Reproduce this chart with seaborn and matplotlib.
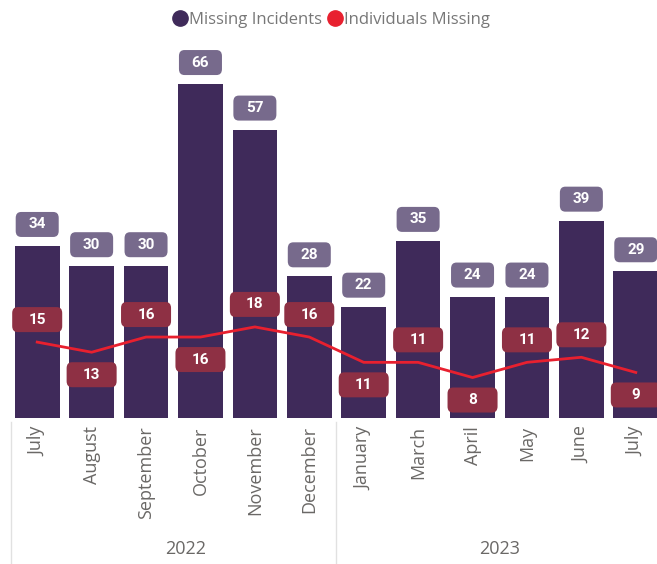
import pandas as pd
import seaborn as sns
import matplotlib.pyplot as plt
from matplotlib.patches import FancyBboxPatch
from matplotlib.lines import Line2D

months = ['July', 'August', 'September', 'October', 'November', 'December',
          'January', 'March', 'April', 'May', 'June', 'July']
years = ['2022'] * 6 + ['2023'] * 6
incidents = [34, 30, 30, 66, 57, 28, 22, 35, 24, 24, 39, 29]
individuals = [15, 13, 16, 16, 18, 16, 11, 11, 8, 11, 12, 9]
# label side for the line values (+1 above the point, -1 below)
line_label_side = [1, -1, 1, -1, 1, 1, -1, 1, -1, 1, 1, -1]

df = pd.DataFrame({'month': months, 'year': years,
                   'incidents': incidents, 'individuals': individuals})
df['period'] = df['month'] + ' ' + df['year']

bar_col = '#3f2a5a'
line_col = '#e8202f'
bar_box = '#776a8c'
line_box = '#8e3044'
grey = '#6a6866'

W, H = 657, 564
fig = plt.figure(figsize=(W / 100, H / 100), dpi=100)
ax = fig.add_axes([10 / W, 146 / H, 653 / W, 378 / H])

sns.barplot(data=df, x='period', y='incidents', color=bar_col, width=0.82,
            saturation=1, ax=ax)
sns.pointplot(data=df, x='period', y='individuals', color=line_col, markers='',
              linewidth=2, errorbar=None, ax=ax)

ax.set_xlim(-0.5, 11.5)
ax.set_ylim(0, 378 / 5.06)
for s in ax.spines.values():
    s.set_visible(False)
ax.set_yticks([])
ax.set_xlabel('')
ax.set_ylabel('')
ax.set_xticks(range(len(months)))
ax.set_xticklabels(months, rotation=90, fontsize=13, color=grey, family='Open Sans')
ax.tick_params(axis='x', length=0, pad=6)

# rounded label boxes, sized in pixels
px_x = 54.4
px_y = 5.06
rs = 0.1
asp = (6 / px_y) / rs


def label(x, y, txt, fc, wpx):
    bw, bh = wpx / px_x, 25 / px_y
    box = FancyBboxPatch((x - bw / 2, y - bh / 2), bw, bh,
                         boxstyle=f'round,pad=0,rounding_size={rs}',
                         mutation_aspect=asp, fc=fc, ec='none', zorder=5,
                         clip_on=False)
    ax.add_patch(box)
    ax.text(x, y, txt, ha='center', va='center', color='white', fontsize=11,
            fontweight='bold', family='Roboto', zorder=6, clip_on=False)


for i, v in enumerate(incidents):
    label(i, v + 21.5 / px_y, str(v), bar_box, 43)
for i, v in enumerate(individuals):
    label(i, v + line_label_side[i] * 22.5 / px_y, str(v), line_box, 50)

# year grouping row
for xp in [10.5, 336]:
    fig.add_artist(Line2D([xp / W, xp / W], [0, 1 - 422 / H], color='#e1e1e1', lw=1))
fig.text(186 / W, 1 - 549 / H, '2022', ha='center', va='center', fontsize=13,
         color=grey, family='Open Sans')
fig.text(500 / W, 1 - 549 / H, '2023', ha='center', va='center', fontsize=13,
         color=grey, family='Open Sans')

handles = [Line2D([], [], marker='o', ls='', color=bar_col, markersize=11),
           Line2D([], [], marker='o', ls='', color=line_col, markersize=11)]
fig.legend(handles, ['Missing Incidents', 'Individuals Missing'], ncol=2,
           loc='center', bbox_to_anchor=(331 / W, 1 - 20 / H), frameon=False,
           handletextpad=0.05, columnspacing=0.3, handlelength=1,
           prop={'family': 'Open Sans', 'size': 12}, labelcolor='#777777')

fig.savefig('out.png', dpi=100)
